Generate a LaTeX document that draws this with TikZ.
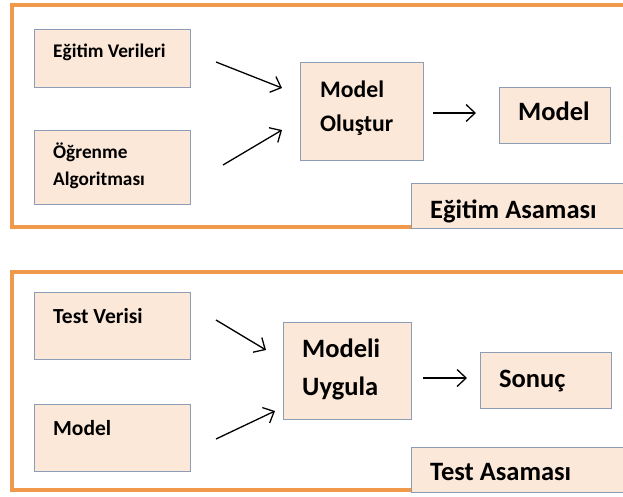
\documentclass[tikz,border=0pt]{standalone}
\usepackage{fontspec}
\setmainfont{Carlito}
\usetikzlibrary{arrows.meta}
\definecolor{frameor}{HTML}{F0994A}
\definecolor{boxfill}{HTML}{FCE8D8}
\definecolor{boxline}{HTML}{8C9DB5}
\begin{document}
\begin{tikzpicture}[x=1pt,y=-1pt,
  frame/.style={draw=frameor,line width=4pt},
  box/.style={draw=boxline,fill=boxfill,line width=1.2pt,inner sep=0pt,anchor=north west},
  ts/.style={inner sep=0pt,anchor=base west,font=\bfseries\fontsize{19.3}{23}\selectfont},
  tm/.style={inner sep=0pt,anchor=base west,font=\bfseries\fontsize{21.5}{26}\selectfont},
  tl/.style={inner sep=0pt,anchor=base west,font=\bfseries\fontsize{23.7}{28}\selectfont},
  tx/.style={inner sep=0pt,anchor=base west,font=\bfseries\fontsize{26.5}{32}\selectfont},
  arr/.style={draw=black,line width=1.3pt,-{Straight Barb[length=9pt,width=17pt,line width=1.3pt]}}]
\useasboundingbox (0,0) rectangle (623,496);
\fill[white] (0,0) rectangle (623,496);
\clip (0,0) rectangle (623,496);

% ---------- training phase ----------
\draw[frame] (12,5) rectangle (660,227);
\node[box,minimum width=156pt,minimum height=58pt] (ev) at (34,29) {};
\node[box,minimum width=156pt,minimum height=74pt] (oa) at (34,130) {};
\node[box,minimum width=123pt,minimum height=98pt] (mo) at (300,62) {};
\node[box,minimum width=111pt,minimum height=56pt] (mdl) at (499,87) {};
\node[box,minimum width=240pt,minimum height=45pt] (ea) at (411,183) {};

\node[ts] (evt) at (53,57) {Eğitim Verileri};
\node[ts] (oat1) at (53,158) {Öğrenme};
\node[ts] (oat2) at (53,185) {Algoritması};
\node[tl] (mot1) at (320,97) {Model};
\node[tl] (mot2) at (320,131) {Oluştur};
\node[tx] (mdlt) at (518,120) {Model};
\node[tx] (eat) at (430,218) {Eğitim Asaması};

\coordinate (a1s) at (216,62);  \coordinate (a1e) at (282,88);
\coordinate (a2s) at (223,165); \coordinate (a2e) at (282,130);
\coordinate (a3s) at (433,113); \coordinate (a3e) at (476,113);
\draw[arr] (a1s) -- (a1e);
\draw[arr] (a2s) -- (a2e);
\draw[arr] (a3s) -- (a3e);

% ---------- test phase ----------
\draw[frame] (12,272) rectangle (660,490);
\node[box,minimum width=156pt,minimum height=67pt] (tv) at (34,292) {};
\node[box,minimum width=156pt,minimum height=67pt] (md2) at (34,404) {};
\node[box,minimum width=128pt,minimum height=97pt] (mu) at (283,322) {};
\node[box,minimum width=131pt,minimum height=56pt] (so) at (480,352) {};
\node[box,minimum width=240pt,minimum height=45pt] (ta) at (411,447) {};

\node[tm] (tvt) at (53,323) {Test Verisi};
\node[tm] (md2t) at (53,435) {Model};
\node[tx] (mut1) at (302,357) {Modeli};
\node[tx] (mut2) at (302,395) {Uygula};
\node[tx] (sot) at (499,387) {Sonuç};
\node[tx] (tat) at (430,480) {Test Asaması};

\coordinate (b1s) at (216,320); \coordinate (b1e) at (266,350);
\coordinate (b2s) at (216,439); \coordinate (b2e) at (275,411);
\coordinate (b3s) at (423,378); \coordinate (b3e) at (467,378);
\draw[arr] (b1s) -- (b1e);
\draw[arr] (b2s) -- (b2e);
\draw[arr] (b3s) -- (b3e);
\end{tikzpicture}
\end{document}
